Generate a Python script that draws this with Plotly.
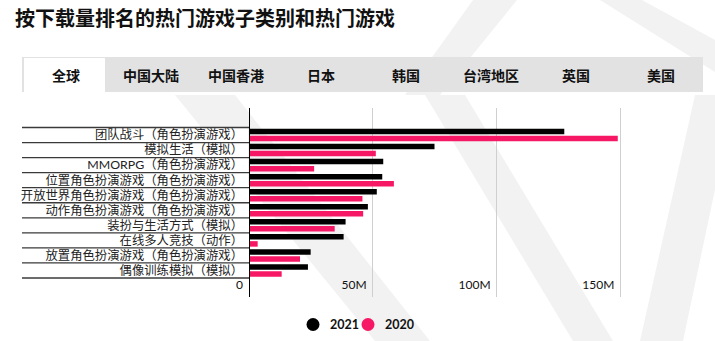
import plotly.graph_objects as go

W, H = 715, 341

title = "按下载量排名的热门游戏子类别和热门游戏"
tabs = ["全球", "中国大陆", "中国香港", "日本", "韩国", "台湾地区", "英国", "美国"]
categories = [
    "团队战斗（角色扮演游戏）",
    "模拟生活（模拟）",
    "MMORPG（角色扮演游戏）",
    "位置角色扮演游戏（角色扮演游戏）",
    "开放世界角色扮演游戏（角色扮演游戏）",
    "动作角色扮演游戏（角色扮演游戏）",
    "装扮与生活方式（模拟）",
    "在线多人竞技（动作）",
    "放置角色扮演游戏（角色扮演游戏）",
    "偶像训练模拟（模拟）",
]
v2021 = [127.3, 74.9, 54.2, 53.8, 51.6, 48.0, 39.0, 38.2, 24.9, 23.8]
v2020 = [148.9, 51.2, 26.3, 58.5, 45.8, 46.1, 34.6, 3.5, 20.6, 13.2]
tick_vals = [0, 50, 100, 150]
tick_text = ["0", "50M", "100M", "150M"]
series_names = ["2021", "2020"]

BLACK = "#000000"
PINK = "#f71865"
FONT = "Lato, 'Noto Sans CJK SC', sans-serif"
colors = [BLACK, PINK]

def px(x):
    return x / W

def py(y):
    return 1 - y / H

def poly(pts):
    return "M " + " L ".join(f"{px(x):.5f},{py(y):.5f}" for x, y in pts) + " Z"

fig = go.Figure()
for name, vals, col in zip(series_names, [v2021, v2020], colors):
    fig.add_trace(go.Bar(y=categories, x=vals, orientation="h", name=name,
                         marker=dict(color=col, line=dict(width=0)), showlegend=False))

x0_px, x1_px = 249, 705
scale = (620.5 - 249) / 150.0
xmax = (x1_px - x0_px) / scale

row_top, row_bot = 127.5, 278
n = len(categories)
rh = (row_bot - row_top) / n
dom_top, dom_bot = 108, 297
r_lo = -0.5 - (row_top - dom_top) / rh
r_hi = n - 0.5 + (dom_bot - row_bot) / rh

shapes = []
# faint watermark (gem outline) in background
WM = "#f2f2f2"
for pts in [
    [(473, 0), (517, 0), (440, 95), (405, 95)],
    [(425, 95), (465, 95), (613, 341), (573, 341)],
    [(600, 0), (642, 0), (715, 40), (715, 72)],
    [(695, 95), (735, 95), (683, 341), (640, 341)],
    [(175, 95), (235, 95), (430, 341), (375, 341)],
]:
    shapes.append(dict(type="path", xref="paper", yref="paper", path=poly(pts),
                       fillcolor=WM, line=dict(width=0), layer="below"))
# white panel behind category labels
shapes.append(dict(type="rect", xref="paper", yref="paper", x0=px(22), x1=px(248),
                   y0=py(278), y1=py(127), fillcolor="#ffffff", line=dict(width=0), layer="below"))
# tab band
shapes.append(dict(type="rect", xref="paper", yref="paper", x0=px(22), x1=px(703),
                   y0=py(92), y1=py(57), fillcolor="#e2e2e2", line=dict(width=0), layer="below"))
shapes.append(dict(type="rect", xref="paper", yref="paper", x0=px(24), x1=px(105),
                   y0=py(92), y1=py(58), fillcolor="#ffffff", line=dict(width=0), layer="below"))
# row separators in label area
for i in range(n + 1):
    shapes.append(dict(type="line", xref="paper", yref="y", x0=px(22), x1=px(249),
                       y0=i - 0.5, y1=i - 0.5, line=dict(color="#3a3a3a", width=1.3)))
# zero axis line
shapes.append(dict(type="line", xref="x", yref="paper", x0=0, x1=0,
                   y0=py(dom_bot), y1=py(dom_top), line=dict(color="#000000", width=2)))

annotations = [dict(text="<b>" + title + "</b>", x=px(13), y=py(18), xref="paper", yref="paper",
                    xanchor="left", yanchor="middle", showarrow=False,
                    font=dict(size=20, color="#111111", family=FONT))]
for i, t in enumerate(tabs):
    cx = 66 + 85 * i
    annotations.append(dict(text=t, x=px(cx), y=py(75), xref="paper", yref="paper",
                            xanchor="center", yanchor="middle", showarrow=False,
                            font=dict(size=14, color="#111111", family=FONT, weight=600)))

# legend (circle + label)
leg_centers = [313, 368]
for name, col, cx in zip(series_names, colors, leg_centers):
    shapes.append(dict(type="circle", xref="paper", yref="paper",
                       x0=px(cx - 6.5), x1=px(cx + 6.5), y0=py(331), y1=py(318),
                       fillcolor=col, line=dict(width=0)))
    annotations.append(dict(text=name, x=px(cx + 15), y=py(324.5), xref="paper", yref="paper",
                            xanchor="left", yanchor="middle", showarrow=False,
                            font=dict(size=12.5, color="#111111", family=FONT, weight=700)))

fig.update_layout(
    width=W, height=H,
    margin=dict(l=0, r=0, t=0, b=0, autoexpand=False),
    paper_bgcolor="white", plot_bgcolor="rgba(0,0,0,0)",
    barmode="group", bargap=0.06, bargroupgap=0.22,
    font=dict(family=FONT, color="#222222"),
    shapes=shapes, annotations=annotations,
    showlegend=False,
    xaxis=dict(domain=[px(x0_px), px(x1_px)], range=[0, xmax], tickvals=tick_vals,
               ticktext=[t + "\u00a0\u00a0" for t in tick_text],
               showgrid=True, gridcolor="#cfcfcf", gridwidth=1,
               zeroline=False, showline=False, ticks="", automargin=False,
               ticklabelposition="inside left", ticklabeloverflow="allow",
               tickfont=dict(size=12, color="#111111", family=FONT)),
    yaxis=dict(domain=[py(dom_bot), py(dom_top)], range=[r_hi, r_lo], type="category",
               categoryorder="array", categoryarray=categories,
               showgrid=False, zeroline=False, showline=False, ticks="", automargin=False,
               ticklabelstandoff=5,
               tickfont=dict(size=12.35, color="#222222", family=FONT)),
)

fig.write_html("out.html")
